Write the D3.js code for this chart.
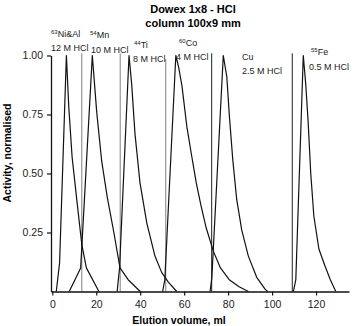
<!DOCTYPE html>
<html>
<head>
<script src="https://d3js.org/d3.v7.min.js"></script>
<style>
  body { margin: 0; background: #fff; }
  text { font-family: "Liberation Sans", Arial, Helvetica, sans-serif; }
</style>
</head>
<body>
<script>
// data: elution volume (ml), normalised activity
var niAl = [[1.8, 0], [3.3, 0.12], [6.4, 1.0], [7.5, 0.78], [9, 0.57], [11, 0.4], [13.4, 0.2], [15.5, 0.1], [21.2, 0]]
var mn = [[7.7, 0], [12.9, 0.1], [18.2, 1.0], [20.2, 0.76], [22.5, 0.55], [25, 0.4], [28, 0.25], [30.8, 0.1], [34.5, 0.05], [40, 0]]
var ti = [[29.5, 0], [30.6, 0.1], [34.9, 1.0], [36.1, 0.88], [37.6, 0.67], [39.9, 0.46], [43, 0.29], [46.7, 0.15], [49.8, 0.08], [52.8, 0.04], [56.6, 0]]
var co = [[50.2, 0], [51.2, 0.05], [56.2, 1.0], [57.5, 0.95], [59, 0.87], [61.2, 0.7], [63.5, 0.57], [65.5, 0.46], [67.5, 0.37], [70, 0.27], [73.3, 0.17], [76.5, 0.1], [80.5, 0.05], [85, 0.02], [89.2, 0]]
var cu = [[71.8, 0], [72.6, 0.06], [77.8, 1.0], [79.4, 0.91], [80.6, 0.74], [82.1, 0.56], [83.9, 0.39], [86.2, 0.26], [89.2, 0.15], [93, 0.06], [96.8, 0.01], [98, 0]]
var fe = [[109.7, 0], [110.8, 0.05], [114.2, 1.0], [115.3, 0.88], [116.4, 0.72], [117.6, 0.5], [119, 0.32], [121.3, 0.18], [124, 0.11], [126.5, 0.05], [129, 0]]

var peaks = [niAl, mn, ti, co, cu, fe]
var elements = ["Ni&Al", "Mn", "Ti", "Co", "Cu", "Fe"]
var massNumbers = ["63", "54", "44", "60", "", "55"]
var eluents = ["12 M HCl", "10 M HCl", "8 M HCl", "4 M HCl", "2.5 M HCl", "0.5 M HCl"]
var switchVolumes = [13.4, 30.9, 51.6, 72.5, 109.2]
var xTicks = [0, 20, 40, 60, 80, 100, 120]
var yTicks = [0.25, 0.5, 0.75, 1.0]

var w = 355, h = 326
var svg = d3.select("body").append("svg").attr("width", w).attr("height", h)

var x = d3.scaleLinear().domain([-0.6, 135]).range([51, 349])
var y = d3.scaleLinear().domain([0, 1]).range([291.5, 55.5])

// switching lines (gray for first three, dark for later)
svg.selectAll(".switch").data(switchVolumes).enter().append("line")
    .attr("x1", d => x(d)).attr("x2", d => x(d))
    .attr("y1", (d, i) => i == 2 ? y(0.985) : y(1.01))
    .attr("y2", y(0))
    .attr("stroke", (d, i) => i < 3 ? "#8c8c8c" : "#333")
    .attr("stroke-width", 1.1)

var line = d3.line().x(d => x(d[0])).y(d => y(d[1]))
svg.selectAll(".peak").data(peaks).enter().append("path")
    .attr("d", line)
    .attr("fill", "none")
    .attr("stroke", "#111")
    .attr("stroke-width", 1.2)
    .attr("stroke-linejoin", "round")

var xAxis = svg.append("g")
    .attr("transform", "translate(0," + y(0) + ")")
    .call(d3.axisBottom(x).tickValues(xTicks).tickSize(4).tickSizeOuter(0).tickPadding(5))
var yAxis = svg.append("g")
    .attr("transform", "translate(" + x(-0.6) + ",0)")
    .call(d3.axisLeft(y).tickValues(yTicks).tickFormat(d3.format(".2f")).tickSize(4).tickSizeOuter(0).tickPadding(4))

svg.selectAll(".domain").attr("stroke", "#111").attr("stroke-width", 1.3)
svg.selectAll(".tick line").attr("stroke", "#111").attr("stroke-width", 1.2)
svg.selectAll(".tick text").attr("font-size", "10.5px").attr("fill", "#222")
    .style("font-family", "'Liberation Sans', Arial, sans-serif")

// titles
svg.append("text").attr("x", 193).attr("y", 12.5).attr("text-anchor", "middle")
    .attr("font-size", "11px").attr("font-weight", "bold").text("Dowex 1x8 - HCl")
svg.append("text").attr("x", 193).attr("y", 27).attr("text-anchor", "middle")
    .attr("font-size", "11px").attr("font-weight", "bold").text("column 100x9 mm")

svg.append("text").attr("x", 179).attr("y", 324).attr("text-anchor", "middle")
    .attr("font-size", "10.5px").attr("font-weight", "bold").text("Elution volume, ml")
svg.append("text").attr("transform", "translate(11,153) rotate(-90)").attr("text-anchor", "middle")
    .attr("font-size", "10.5px").attr("font-weight", "bold").text("Activity, normalised")

// peak labels (pixel anchors: element line, eluent line)
var labelPos = [[51, 37, 51, 51], [90, 38, 91, 53], [134, 48, 133, 62], [179, 46, 176, 60], [242, 60, 242, 74], [311, 55, 309, 70]]
elements.forEach(function (el, i) {
    var p = labelPos[i]
    var t = svg.append("text").attr("x", p[0]).attr("y", p[1]).attr("font-size", "9px").attr("fill", "#222")
    if (massNumbers[i]) {
        t.append("tspan").attr("font-size", "6px").attr("dy", -3.5).text(massNumbers[i])
        t.append("tspan").attr("dy", 3.5).text(el)
    } else {
        t.text(el)
    }
    svg.append("text").attr("x", p[2]).attr("y", p[3]).attr("font-size", "9px").attr("fill", "#222").text(eluents[i])
})
</script>
</body>
</html>
